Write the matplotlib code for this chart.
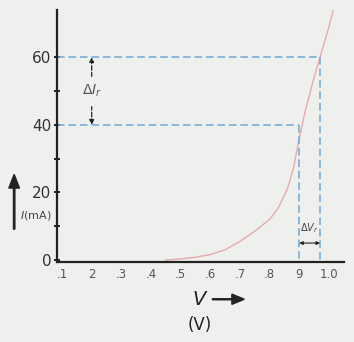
import matplotlib.pyplot as plt
from matplotlib.patches import FancyArrow

# Diode forward characteristic
volts = [0.45, 0.5, 0.55, 0.6, 0.65, 0.7, 0.75, 0.8, 0.83, 0.86, 0.88, 0.9, 0.92, 0.95, 0.97, 1.0, 1.015]
current = [0, 0.3, 0.8, 1.6, 3, 5.5, 8.5, 12, 15.5, 21, 27, 36, 44, 54, 60, 69, 74]

x_ticks = [0.1, 0.2, 0.3, 0.4, 0.5, 0.6, 0.7, 0.8, 0.9, 1.0]
x_labels = ['.1', '2', '.3', '.4', '.5', '.6', '.7', '.8', '9', '1.0']

v1, i1 = 0.9, 40
v2, i2 = 0.97, 60

bg = '#eef0ee'
fig = plt.figure(figsize=(3.54, 3.42), dpi=100, facecolor=bg)
ax = fig.add_axes([0.161, 0.234, 0.81, 0.737], facecolor=bg)

ax.plot(volts, current, color='#e9a8b0', lw=1.0)

dash = dict(color='#6fa8d8', lw=1.1, ls=(0, (5, 2.5)))
ax.plot([0.083, v2], [i2, i2], **dash)
ax.plot([v2, v2], [i2, -0.6], **dash)
ax.plot([0.083, v1], [i1, i1], **dash)
ax.plot([v1, v1], [i1, -0.6], **dash)

# delta I arrow
ax.annotate('', xy=(0.2, i2), xytext=(0.2, i1),
            arrowprops=dict(arrowstyle='<|-|>', color='#222222', lw=0.9, ls='--',
                            mutation_scale=7, shrinkA=0, shrinkB=0))
ax.text(0.2, 50, r'$\Delta I_r$', ha='center', va='center', fontsize=10,
        color='#555555', backgroundcolor=bg)

# delta V arrow
ax.annotate('', xy=(v2, 5), xytext=(v1, 5),
            arrowprops=dict(arrowstyle='<|-|>', color='#222222', lw=0.8,
                            mutation_scale=5, shrinkA=0, shrinkB=0))
ax.text((v1 + v2) / 2, 9.5, r'$\Delta V_r$', ha='center', va='center',
        fontsize=7, color='#444444')

ax.set_xlim(0.083, 1.05)
ax.set_ylim(-0.6, 74)
ax.spines['top'].set_visible(False)
ax.spines['right'].set_visible(False)
for s in ('left', 'bottom'):
    ax.spines[s].set_linewidth(1.6)
    ax.spines[s].set_color('#222222')

ax.set_yticks(range(0, 70, 10))
ax.set_yticklabels(['0', '', '20', '', '40', '', '60'])
ax.set_xticks(x_ticks)
ax.set_xticklabels(x_labels)
ax.tick_params(axis='y', direction='inout', length=4, width=1.4, labelsize=11,
               colors='#222222', labelcolor='#333333', pad=2)
ax.tick_params(axis='x', length=0, labelsize=8.5, labelcolor='#555555', pad=4)

# axis labels
fig.text(0.565, 0.125, r'$V$', fontsize=14, color='#222222', ha='center', va='center')
fig.patches.append(FancyArrow(
    0.6, 0.125, 0.09, 0, width=0.003, head_width=0.03, head_length=0.035,
    transform=fig.transFigure, color='#222222', length_includes_head=True))
fig.text(0.565, 0.05, '(V)', fontsize=12, color='#222222', ha='center', va='center')

fig.patches.append(FancyArrow(
    0.04, 0.33, 0, 0.16, width=0.004, head_width=0.03, head_length=0.04,
    transform=fig.transFigure, color='#222222', length_includes_head=True))
fig.text(0.1, 0.37, r'$I$(mA)', fontsize=8, color='#444444', ha='center', va='center')

fig.savefig('out.png', dpi=100, facecolor=bg)
